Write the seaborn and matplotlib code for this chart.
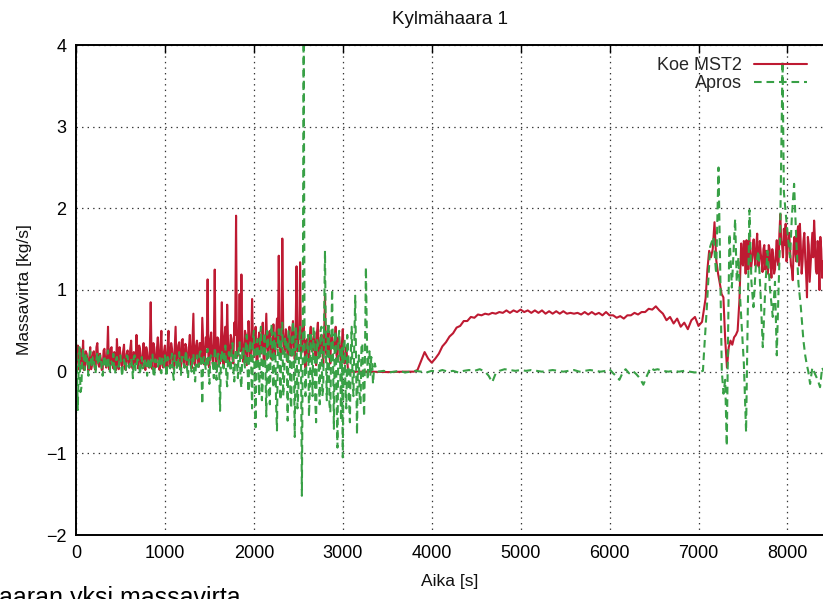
import numpy as np
import pandas as pd
import seaborn as sns
import matplotlib.pyplot as plt

# ---------------- data ----------------
# Koe MST2 (measurement), early noisy part, every 20 s from 0 s
koe_early = [
    0.05, 0.32, 0.02, 0.18, 0.38, 0.04, 0.22, 0.01, 0.30, 0.08,
    0.25, 0.02, 0.35, 0.06, 0.15, 0.03, 0.28, 0.05, 0.55, 0.02,
    0.30, 0.04, 0.18, 0.40, 0.03, 0.22, 0.06, 0.33, 0.02, 0.26,
    0.05, 0.38, 0.03, 0.20, 0.45, 0.04, 0.28, 0.07, 0.35, 0.02,
    0.24, 0.05, 0.85, 0.03, 0.30, 0.06, 0.42, 0.02, 0.50, 0.05,
    0.32, 0.04, 0.50, 0.08, 0.28, 0.03, 0.55, 0.06, 0.36, 0.02,
    0.40, 0.05, 0.30, 0.10, 0.45, 0.04, 0.71, 0.08, 0.38, 0.06,
    0.35, 0.66, 0.09, 0.42, 1.13, 0.05, 0.48, 0.12, 1.25, 0.07,
    0.40, 0.10, 0.85, 0.06, 0.55, 0.82, 0.08, 0.45, 0.15, 0.60,
    1.91, 0.20, 0.95, 1.19, 0.12, 0.50, 0.08, 0.62, 0.15, 0.89,
    0.18, 0.55, 0.10, 0.48, 0.22, 0.60, 0.12, 0.71, 0.20, 0.50,
    0.15, 0.58, 0.25, 0.65, 1.42, 0.18, 1.63, 0.30, 0.52, 0.12,
    0.55, 0.20, 0.62, 0.15, 1.29, 0.45, 1.34, 0.28, 0.58, 0.05,
    0.40, 0.12, 0.55, 0.25, 0.48, 0.08, 0.60, 0.18, 0.45, 0.10,
    0.93, 0.20, 0.50, 0.10, 0.42, 0.28, 0.55, 0.15, 0.38, 0.06,
    0.52, 0.10, 0.30,
]
# in-between samples of the early part, every 20 s from 10 s
koe_early_b = [
    0.20, 0.08, 0.28, 0.12, 0.02, 0.25, 0.10, 0.18, 0.03, 0.22,
    0.06, 0.30, 0.10, 0.22, 0.02, 0.26, 0.12, 0.20, 0.04, 0.28,
    0.10, 0.24, 0.02, 0.15, 0.30, 0.08, 0.25, 0.04, 0.22, 0.12,
    0.28, 0.06, 0.24, 0.10, 0.18, 0.32, 0.05, 0.22, 0.12, 0.30,
    0.08, 0.26, 0.14, 0.35, 0.05, 0.28, 0.12, 0.30, 0.08, 0.25,
    0.10, 0.30, 0.06, 0.35, 0.12, 0.28, 0.08, 0.32, 0.14, 0.38,
    0.12, 0.34, 0.08, 0.30, 0.15, 0.38, 0.10, 0.32, 0.18, 0.35,
    0.10, 0.38, 0.15, 0.30, 0.08, 0.40, 0.18, 0.35, 0.12, 0.42,
    0.15, 0.38, 0.20, 0.44, 0.12, 0.35, 0.22, 0.40, 0.10, 0.45,
    0.18, 0.42, 0.25, 0.38, 0.15, 0.45, 0.20, 0.40, 0.28, 0.35,
    0.42, 0.12, 0.38, 0.25, 0.45, 0.15, 0.40, 0.28, 0.48, 0.22,
    0.40, 0.18, 0.45, 0.30, 0.38, 0.22, 0.50, 0.25, 0.42, 0.35,
    0.20, 0.48, 0.30, 0.52, 0.25, 0.44, 0.20, 0.50, 0.30, 0.38,
    0.22, 0.45, 0.30, 0.40, 0.18, 0.48, 0.25, 0.38, 0.30, 0.42,
    0.25, 0.40, 0.18, 0.45, 0.30, 0.38, 0.20, 0.42, 0.25, 0.35,
    0.20, 0.15,
]
# flat part
koe_flat_t = [3060, 3300, 3500, 3700, 3800]
koe_flat = [0.0, 0.0, -0.005, 0.0, 0.0]
# rise and plateau, every 40 s from 3840 s
koe_mid = [
    0.02, 0.13, 0.24, 0.16, 0.11, 0.16, 0.22, 0.31, 0.36, 0.43,
    0.47, 0.54, 0.56, 0.62, 0.62, 0.67, 0.66, 0.70, 0.69, 0.71,
    0.70, 0.72, 0.71, 0.73, 0.72, 0.75, 0.72, 0.75, 0.73, 0.76,
    0.73, 0.75, 0.72, 0.75, 0.72, 0.75, 0.71, 0.74, 0.71, 0.74,
    0.71, 0.74, 0.71, 0.72, 0.71, 0.72, 0.70, 0.73, 0.70, 0.73,
    0.70, 0.72, 0.69, 0.73, 0.69, 0.69, 0.66, 0.68, 0.65, 0.69,
    0.69, 0.72, 0.70, 0.73, 0.73, 0.77, 0.76, 0.80, 0.75, 0.71,
    0.63, 0.67, 0.59, 0.65, 0.55, 0.60, 0.52, 0.63, 0.67, 0.56,
    0.61,
]
# late part, every 20 s from 7080 s
koe_late = [
    0.90, 1.25, 1.48, 1.40, 1.50, 1.83, 1.36, 1.20, 1.08, 0.95,
    0.91, 0.40, 0.05, 0.30, 0.38, 0.33, 0.42, 0.45, 0.50, 0.87,
    1.57, 1.30, 1.55, 1.61, 1.25, 1.50, 1.35, 1.62, 1.30, 1.69,
    1.28, 1.45, 1.22, 1.55, 1.48, 1.20, 1.50, 1.15, 1.40, 1.25,
    1.61, 1.30, 1.93, 1.55, 1.75, 1.81, 1.45, 1.70, 1.30, 1.12,
    1.65, 1.35, 1.78, 1.81, 1.20, 1.60, 1.40, 0.91, 1.55, 1.30,
    1.70, 1.85, 1.25, 1.60, 1.00, 1.50, 1.35,
]
# in-between samples of the late band, every 20 s from 7490 s
koe_late_b = [
    1.35, 1.60, 1.20, 1.45, 1.65, 1.25, 1.50, 1.40, 1.55, 1.30,
    1.60, 1.35, 1.50, 1.25, 1.40, 1.55, 1.30, 1.50, 1.20, 1.45,
    1.35, 1.70, 1.60, 1.40, 1.55, 1.35, 1.65, 1.50, 1.25, 1.55,
    1.45, 1.70, 1.30, 1.55, 1.35, 1.70, 1.20, 1.65, 1.10, 1.50,
    1.40, 1.60, 1.20, 1.45, 1.65, 1.15,
]

# Apros (simulation), early noisy part, every 20 s from 0 s
apros_early = [
    0.38, -0.47, 0.30, -0.20, 0.28, 0.02, 0.22, -0.05, 0.25, 0.05,
    0.18, -0.02, 0.24, 0.08, 0.15, -0.05, 0.20, 0.04, 0.26, 0.00,
    0.12, 0.22, -0.03, 0.18, 0.06, 0.20, -0.06, 0.15, 0.02, 0.19,
    0.05, 0.16, -0.08, 0.20, 0.03, 0.14, -0.04, 0.18, 0.06, 0.12,
    -0.05, 0.17, 0.02, 0.21, -0.07, 0.14, 0.05, 0.19, -0.02, 0.12,
    0.20, -0.06, 0.15, 0.04, 0.22, -0.10, 0.16, 0.02, 0.24, -0.04,
    0.18, 0.05, 0.26, -0.08, 0.14, 0.00, 0.22, -0.12, 0.20, 0.06,
    0.25, -0.40, 0.18, 0.02, 0.28, -0.15, 0.20, 0.08, 0.30, -0.10,
    0.22, -0.48, 0.26, 0.04, 0.32, -0.18, 0.24, 0.00, 0.35, -0.12,
    0.28, -0.08, 0.36, -0.20, 0.30, 0.05, 0.45, -0.25, 0.38, -0.45,
    0.50, -0.68, 0.40, -0.30, 0.55, -0.15, 0.48, -0.55, 0.35, -0.40,
    0.58, -0.20, 0.45, -0.72, 0.52, -0.35, 0.60, -0.10, 0.42, -0.60,
    0.50, -0.45, 0.62, -0.80, 0.40, -0.25, 0.55, -1.52, 4.50, -0.30,
    0.30, -0.55, 0.45, -0.30, 0.50, -0.62, 0.35, -0.40, 0.55, -0.20,
    1.48, -0.35, 0.60, -0.50, 1.01, -0.70, 0.45, -0.93, 0.50, -0.60,
    -1.05, 0.40, -0.45, 0.30, -0.62, 0.55, -0.30, 0.93, -0.77, 0.20,
    -0.40, 0.35, -0.55, 1.28, -0.10, 0.25, 0.18, -0.15, 0.10, 0.05,
    0.00,
]
# in-between samples of the early part, every 20 s from 10 s
apros_early_b = [
    0.10, 0.05, -0.25, 0.15, 0.10, 0.20, 0.08, 0.15, 0.12, 0.18,
    0.05, 0.15, 0.10, 0.20, 0.02, 0.12, 0.08, 0.16, 0.04, 0.14,
    0.08, 0.02, 0.15, 0.10, 0.18, 0.05, 0.12, 0.08, 0.20, 0.06,
    0.14, 0.08, 0.18, 0.02, 0.15, 0.10, 0.12, 0.04, 0.16, 0.08,
    0.12, 0.05, 0.18, -0.02, 0.15, 0.08, 0.12, 0.02, 0.16, 0.06,
    0.05, 0.18, 0.10, 0.15, -0.02, 0.20, 0.08, 0.14, 0.02, 0.18,
    0.10, 0.20, 0.02, 0.15, 0.08, 0.18, -0.05, 0.12, 0.06, 0.22,
    0.05, 0.15, 0.10, 0.22, 0.00, 0.18, 0.12, -0.08, 0.20, 0.15,
    0.05, 0.20, 0.12, 0.25, -0.05, 0.18, 0.10, 0.28, 0.02, 0.20,
    0.10, 0.30, -0.10, 0.25, 0.15, 0.35, 0.00, 0.28, 0.10, 0.40,
    -0.20, 0.35, 0.10, 0.45, -0.35, 0.30, 0.05, 0.50, -0.25, 0.40,
    0.15, 0.48, -0.40, 0.35, 0.10, 0.55, -0.30, 0.42, 0.20, 0.50,
    -0.30, 0.40, 0.15, 0.55, -0.45, 0.35, 0.20, 0.30, 0.30, 0.10,
    0.45, -0.20, 0.30, 0.55, -0.35, 0.40, 0.10, 0.50, -0.30, 0.60,
    0.30, 0.45, -0.40, 0.35, 0.20, 0.50, -0.30, 0.40, 0.15, 0.30,
    0.35, -0.20, 0.45, -0.35, 0.20, -0.10, 0.40, 0.10, 0.15, -0.30,
    0.30, -0.20, 0.25, 0.50, 0.20, -0.05, 0.10, 0.02, 0.05, 0.03,
]
apros_mid_t = [
    3460, 3520, 3580, 3640, 3700, 3760, 3820, 3880, 3940, 4000,
    4060, 4120, 4180, 4240, 4300, 4360, 4420, 4480, 4540, 4600,
    4640, 4680, 4720, 4760, 4820, 4880, 4940, 5000, 5060, 5120,
    5180, 5240, 5300, 5360, 5420, 5480, 5540, 5600, 5660, 5720,
    5780, 5840, 5900, 5960, 6000, 6040, 6080, 6110, 6140, 6180,
    6220, 6260, 6300, 6340, 6380, 6420, 6460, 6500, 6540, 6600,
    6660, 6720, 6780, 6840, 6900, 6960, 7020, 7050,
]
apros_mid = [
    0.01, -0.01, 0.00, 0.01, -0.01, 0.00, 0.01, 0.00, -0.01, 0.01,
    0.00, 0.02, 0.00, 0.01, -0.01, 0.01, 0.02, 0.01, 0.03, 0.00,
    -0.05, -0.13, -0.02, 0.01, 0.03, 0.02, 0.01, 0.02, 0.01, 0.02,
    0.01, 0.00, 0.01, 0.02, 0.01, 0.00, 0.01, 0.02, 0.00, 0.01,
    0.02, 0.01, 0.00, 0.01, 0.03, -0.02, -0.06, -0.10, -0.03, 0.03,
    -0.02, 0.01, -0.03, -0.08, -0.16, -0.05, 0.05, 0.02, 0.03, 0.01,
    0.00, 0.01, 0.00, 0.01, 0.00, -0.01, 0.00, 0.01,
]
apros_late_t = [
    7060, 7094, 7131, 7168, 7198, 7225, 7245, 7262, 7281, 7300,
    7318, 7333, 7348, 7375, 7412, 7430, 7449, 7468, 7487, 7510,
    7535, 7555, 7573, 7595, 7618, 7645, 7674, 7700, 7723, 7750,
    7775, 7805, 7835, 7860, 7880, 7900, 7917, 7930, 7945, 7960,
    7985, 8010, 8030, 8050, 8075, 8100, 8124, 8150, 8180, 8200,
    8217, 8235, 8255, 8280, 8311, 8340, 8367, 8390, 8410,
]
apros_late = [
    0.20, 0.79, 1.53, 1.65, 1.20, 2.50, 1.20, 0.01, -0.27, -0.10,
    -0.91, 0.50, 1.69, 1.03, 1.87, 1.10, 1.40, 0.90, 0.54, 0.10,
    -0.74, 0.80, 1.98, 1.10, 0.79, 1.30, 1.48, 0.90, 0.30, 1.00,
    1.48, 1.00, 0.67, 1.10, 0.20, 1.00, 1.61, 2.60, 3.80, 2.20,
    1.89, 1.60, 1.40, 1.90, 2.30, 1.60, 1.08, 0.80, 0.38, 0.20,
    0.09, 0.00, -0.15, 0.05, -0.03, -0.10, -0.19, 0.05, 0.00,
]

x_ticks = [0, 1000, 2000, 3000, 4000, 5000, 6000, 7000, 8000]
y_ticks = [-2, -1, 0, 1, 2, 3, 4]

# ---------------- assemble ----------------
def seq(start, step, vals):
    return list(start + step * np.arange(len(vals)))

koe_t = (seq(0, 20, koe_early) + seq(10, 20, koe_early_b) + koe_flat_t
         + seq(3840, 40, koe_mid) + seq(7080, 20, koe_late) + seq(7490, 20, koe_late_b))
koe_v = koe_early + koe_early_b + koe_flat + koe_mid + koe_late + koe_late_b
apros_t = seq(0, 20, apros_early) + seq(10, 20, apros_early_b) + apros_mid_t + apros_late_t
apros_v = apros_early + apros_early_b + apros_mid + apros_late

df_koe = pd.DataFrame({"t": koe_t, "v": koe_v}).sort_values("t", kind="stable")
df_apros = pd.DataFrame({"t": apros_t, "v": apros_v}).sort_values("t", kind="stable")

# ---------------- plot ----------------
sns.set_theme(style="white")
plt.rcParams['font.family'] = ['Liberation Sans', 'DejaVu Sans']
plt.rcParams['lines.scale_dashes'] = False

RED = "#BE1A32"
GREEN = "#38A046"

fig = plt.figure(figsize=(8.23, 5.99), dpi=100)
ax = fig.add_axes([76 / 823, 1 - 535 / 599, 1 - 76 / 823, 490 / 599])

sns.lineplot(data=df_koe, x="t", y="v", ax=ax, color=RED, lw=1.5,
             estimator=None, sort=False, label="Koe MST2")
sns.lineplot(data=df_apros, x="t", y="v", ax=ax, color=GREEN, lw=1.5,
             estimator=None, sort=False, label="Apros", linestyle=(0, (5.5, 3.5)))

ax.set_xlim(0, 8400)
ax.set_ylim(-2, 4)
ax.set_xticks(x_ticks)
ax.set_yticks(y_ticks)
ax.grid(True, color="#333333", linestyle=(0, (1, 3)), linewidth=0.9)

for s in ["left", "bottom", "top"]:
    ax.spines[s].set_visible(True)
    ax.spines[s].set_color("black")
    ax.spines[s].set_linewidth(1.4)
ax.spines["right"].set_visible(False)

ax.tick_params(direction="in", length=6, width=1, top=True, right=False,
               labelsize=13, colors="black", pad=7)

ax.set_title("Kylmähaara 1", fontsize=13.5, pad=15, color="#111111")
ax.set_xlabel("Aika [s]", fontsize=12.5, labelpad=9, color="#111111")
ax.set_ylabel("Massavirta [kg/s]", fontsize=12.5, labelpad=10, color="#111111")

leg = ax.legend(loc="upper right", bbox_to_anchor=(0.988, 0.99), frameon=False,
                markerfirst=False, fontsize=13, handlelength=2.9,
                handletextpad=0.7, labelspacing=0.05, borderaxespad=0)

fig.text(-0.001, 1 - 605 / 599, "aaran yksi massavirta", fontsize=18,
         va="baseline", ha="left", color="black")

fig.savefig("out.png", dpi=100)
